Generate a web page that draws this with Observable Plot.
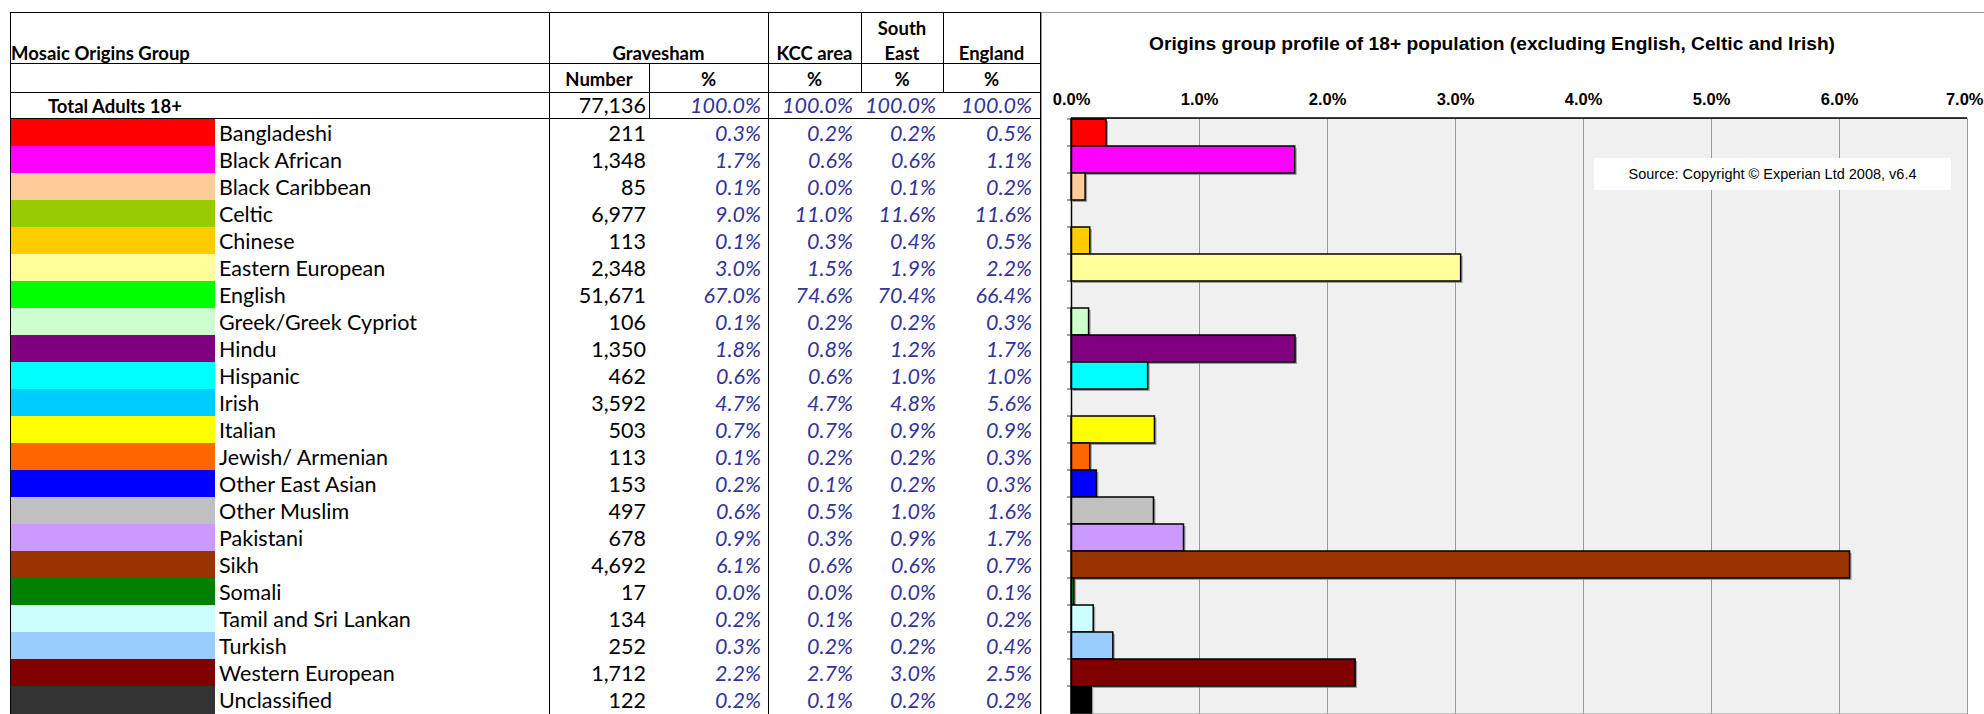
<!DOCTYPE html>
<html>
<head>
<meta charset="utf-8">
<script src="https://cdn.jsdelivr.net/npm/d3@7"></script>
<script src="https://cdn.jsdelivr.net/npm/@observablehq/plot@0.6"></script>
<style>
  body { margin: 0; background: #fff; }
  #root { position: relative; width: 1984px; height: 714px; overflow: hidden; font-family: Lato, "Open Sans", sans-serif; }
  .t { position: absolute; white-space: nowrap; line-height: 1; color: #000; display: flex; align-items: center; }
  .d { font-size: 21.5px; }
  .h { font-size: 18.5px; font-weight: bold; }
  .pct { font-style: italic; color: #333399; }
  .ln { position: absolute; background: #000; }
  #chart { position: absolute; left: 1040px; top: 0; }
  #chart text { font-weight: bold; }
  #title { position: absolute; top: 33px; left: 1492px; transform: translateX(-50%); font: bold 19.2px "Liberation Sans", Arial, sans-serif; white-space: nowrap; }
  #source { position: absolute; left: 1594px; top: 158px; width: 357px; height: 32px; background: #fff; font: 14.5px "Liberation Sans", Arial, sans-serif; display: flex; align-items: center; justify-content: center; white-space: nowrap; }
  #frame { position: absolute; left: 1041px; top: 12px; width: 960px; height: 720px; border-top: 1px solid #999; border-left: 1px solid #999; }
</style>
</head>
<body>
<div id="root"></div>
<script>
// ---------- data ----------
const groups = ["Bangladeshi","Black African","Black Caribbean","Celtic","Chinese","Eastern European","English","Greek/Greek Cypriot","Hindu","Hispanic","Irish","Italian","Jewish/ Armenian","Other East Asian","Other Muslim","Pakistani","Sikh","Somali","Tamil and Sri Lankan","Turkish","Western European","Unclassified"];
const swatchColors = ["#FF0000","#FF00FF","#FFCC99","#99CC00","#FFCC00","#FFFF99","#00FF00","#CCFFCC","#800080","#00FFFF","#00CCFF","#FFFF00","#FF6600","#0000FF","#C0C0C0","#CC99FF","#993300","#008000","#CCFFFF","#99CCFF","#800000","#333333"];
const barColors = ["#FF0000","#FF00FF","#FFCC99","#99CC00","#FFCC00","#FFFF99","#00FF00","#CCFFCC","#800080","#00FFFF","#00CCFF","#FFFF00","#FF6600","#0000FF","#C0C0C0","#CC99FF","#993300","#008000","#CCFFFF","#99CCFF","#800000","#000000"];
const gravNumber = [211,1348,85,6977,113,2348,51671,106,1350,462,3592,503,113,153,497,678,4692,17,134,252,1712,122];
const gravPct = [0.3,1.7,0.1,9.0,0.1,3.0,67.0,0.1,1.8,0.6,4.7,0.7,0.1,0.2,0.6,0.9,6.1,0.0,0.2,0.3,2.2,0.2];
const kccPct = [0.2,0.6,0.0,11.0,0.3,1.5,74.6,0.2,0.8,0.6,4.7,0.7,0.2,0.1,0.5,0.3,0.6,0.0,0.1,0.2,2.7,0.1];
const southEastPct = [0.2,0.6,0.1,11.6,0.4,1.9,70.4,0.2,1.2,1.0,4.8,0.9,0.2,0.2,1.0,0.9,0.6,0.0,0.2,0.2,3.0,0.2];
const englandPct = [0.5,1.1,0.2,11.6,0.5,2.2,66.4,0.3,1.7,1.0,5.6,0.9,0.3,0.3,1.6,1.7,0.7,0.1,0.2,0.4,2.5,0.2];
const totalAdults = 77136;
const totalPct = [100.0, 100.0, 100.0, 100.0];
const excludedFromChart = ["English","Celtic","Irish"];
const xTicks = [0,1,2,3,4,5,6,7];
const chartTitle = "Origins group profile of 18+ population (excluding English, Celtic and Irish)";
const sourceText = "Source: Copyright © Experian Ltd 2008, v6.4";

// ---------- chart ----------
const chartRows = groups.map((g, i) => ({name: g, value: gravNumber[i] / totalAdults * 100, color: barColors[i]}))
  .filter(d => !excludedFromChart.includes(d.name));

const tickFmt = d => d.toFixed(1) + "%";
const chart = Plot.plot({
  width: 944, height: 714,
  marginLeft: 31, marginRight: 17, marginTop: 118, marginBottom: 0.5,
  style: {fontFamily: "'Liberation Sans', Arial, sans-serif", fontSize: "16.5px", background: "transparent", color: "#000", overflow: "visible"},
  x: {domain: [0, 7], axis: "top", ticks: xTicks, tickFormat: tickFmt, tickSize: 0, tickPadding: 14, label: null},
  y: {domain: groups, padding: 0, axis: null},
  color: {type: "identity"},
  marks: [
    Plot.frame({fill: "#f0f0f0", stroke: "#999"}),
    Plot.ruleX(xTicks.filter(t => t > 0), {stroke: "#999", strokeWidth: 1}),
    Plot.barX(chartRows, {x1: 0, x2: "value", y: "name", fill: "#8a8a8a", fillOpacity: 0.8, dx: 2, dy: 2}),
    Plot.barX(chartRows, {x1: 0, x2: "value", y: "name", fill: "color", stroke: "#000", strokeWidth: 1.5}),
    Plot.ruleX([0], {stroke: "#000", strokeWidth: 1.5})
  ]
});
chart.id = "chart";

const xs = chart.scale("x"), ys = chart.scale("y");
const sel = d3.select(chart.tagName === "svg" ? chart : chart.querySelector("svg"));
const x0 = xs.apply(0), x7 = xs.apply(7);
const yTop = ys.range[0];
const bw = ys.bandwidth ?? ((ys.range[1] - ys.range[0]) / groups.length);
sel.append("line").attr("x1", x0).attr("x2", x7).attr("y1", yTop).attr("y2", yTop).attr("stroke", "#000").attr("stroke-width", 1.5);
groups.forEach(g => {
  const y = ys.apply(g);
  sel.append("line").attr("x1", x0 - 4).attr("x2", x0).attr("y1", y).attr("y2", y).attr("stroke", "#444");
});
// keep the last tick label inside the page edge, like the reference
const lastLabel = tickFmt(xTicks[xTicks.length - 1]);
sel.selectAll("text").filter(function() { return this.textContent === lastLabel; })
  .attr("text-anchor", "end").attr("dx", 16);

// ---------- page ----------
const root = document.getElementById("root");
const frame = document.createElement("div"); frame.id = "frame"; root.appendChild(frame);
root.appendChild(chart);
const title = document.createElement("div"); title.id = "title"; title.textContent = chartTitle; root.appendChild(title);
const src = document.createElement("div"); src.id = "source"; src.textContent = sourceText; root.appendChild(src);

function line(x, y, w, h) {
  const e = document.createElement("div"); e.className = "ln";
  Object.assign(e.style, {left: x + "px", top: y + "px", width: w + "px", height: h + "px"});
  root.appendChild(e);
}
function text(str, cls, opts) {
  const e = document.createElement("div"); e.className = "t " + cls; e.textContent = str;
  const {left, right, center, top, height} = opts;
  e.style.top = top + "px"; e.style.height = height + "px";
  if (left != null) e.style.left = left + "px";
  if (right != null) { e.style.left = (right - 400) + "px"; e.style.width = "400px"; e.style.justifyContent = "flex-end"; }
  if (center != null) { e.style.left = (center - 200) + "px"; e.style.width = "400px"; e.style.justifyContent = "center"; }
  root.appendChild(e);
  return e;
}

// table columns (pixel layout)
const colEdges = {left: 10, swatchL: 11, swatchR: 215, label: 219, grav: 549, num: 649, gpct: 768, kcc: 861, se: 943, eng: 1040};
const rightPad = {num: 646, gpct: 761, kcc: 853, se: 936, eng: 1032};
const fmtN = d3.format(",");
const fmtP = v => v.toFixed(1) + "%";

// swatches and rows
groups.forEach((g, i) => {
  const y = ys.apply(g);
  const sw = document.createElement("div");
  Object.assign(sw.style, {position: "absolute", left: colEdges.swatchL + "px", top: y + "px", width: (colEdges.swatchR - colEdges.swatchL) + "px", height: (bw + 0.5) + "px", background: swatchColors[i]});
  root.appendChild(sw);
  const o = {top: y + 1, height: bw};
  text(g, "d", {left: colEdges.label, ...o});
  text(fmtN(gravNumber[i]), "d", {right: rightPad.num, ...o});
  text(fmtP(gravPct[i]), "d pct", {right: rightPad.gpct, ...o});
  text(fmtP(kccPct[i]), "d pct", {right: rightPad.kcc, ...o});
  text(fmtP(southEastPct[i]), "d pct", {right: rightPad.se, ...o});
  text(fmtP(englandPct[i]), "d pct", {right: rightPad.eng, ...o});
});

// header
const hdr1 = {top: 41, height: 24};
text("Mosaic Origins Group", "h", {left: 11, ...hdr1});
text("Gravesham", "h", {center: (colEdges.grav + colEdges.gpct) / 2, ...hdr1});
text("KCC area", "h", {center: (colEdges.gpct + colEdges.kcc) / 2, ...hdr1});
text("South", "h", {center: (colEdges.kcc + colEdges.se) / 2, top: 16, height: 24});
text("East", "h", {center: (colEdges.kcc + colEdges.se) / 2, ...hdr1});
text("England", "h", {center: (colEdges.se + colEdges.eng) / 2, ...hdr1});
const hdr2 = {top: 66, height: 26};
text("Number", "h", {center: (colEdges.grav + colEdges.num) / 2, ...hdr2});
text("%", "h", {center: (colEdges.num + colEdges.gpct) / 2, ...hdr2});
text("%", "h", {center: (colEdges.gpct + colEdges.kcc) / 2, ...hdr2});
text("%", "h", {center: (colEdges.kcc + colEdges.se) / 2, ...hdr2});
text("%", "h", {center: (colEdges.se + colEdges.eng) / 2, ...hdr2});
const hdr3 = {top: 93, height: 26};
text("Total Adults 18+", "h", {left: 48, ...hdr3});
text(fmtN(totalAdults), "d", {right: rightPad.num, ...hdr3});
text(fmtP(totalPct[0]), "d pct", {right: rightPad.gpct, ...hdr3});
text(fmtP(totalPct[1]), "d pct", {right: rightPad.kcc, ...hdr3});
text(fmtP(totalPct[2]), "d pct", {right: rightPad.se, ...hdr3});
text(fmtP(totalPct[3]), "d pct", {right: rightPad.eng, ...hdr3});

// table rules
line(colEdges.left, 12, colEdges.eng - colEdges.left + 1, 1);
line(colEdges.left, 63, colEdges.eng - colEdges.left + 1, 1);
line(colEdges.left, 92, colEdges.eng - colEdges.left + 1, 1);
line(colEdges.left, 118, colEdges.eng - colEdges.left + 1, 1);
line(colEdges.left, 12, 1, 720);
line(colEdges.eng, 12, 1, 720);
line(colEdges.grav, 12, 1, 720);
line(colEdges.gpct, 12, 1, 720);
line(colEdges.num, 63, 1, 55);
line(colEdges.kcc, 12, 1, 80);
line(colEdges.se, 12, 1, 80);
</script>
</body>
</html>
